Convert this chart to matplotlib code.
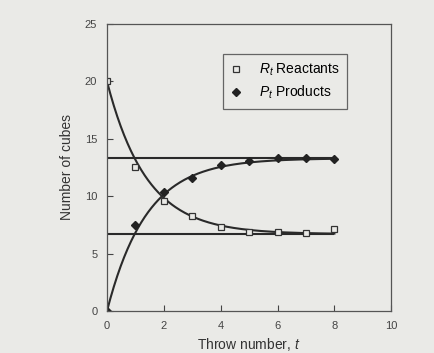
import numpy as np
import matplotlib
matplotlib.use("Agg")
import matplotlib.pyplot as plt

plt.rcParams['font.family'] = ['Liberation Sans', 'DejaVu Sans']
plt.rcParams['mathtext.fontset'] = 'custom'
plt.rcParams['mathtext.rm'] = 'Liberation Sans'
plt.rcParams['mathtext.it'] = 'Liberation Sans:italic'

# measured points
throw = [0, 1, 2, 3, 4, 5, 6, 7, 8]
reactants = [20, 12.5, 9.6, 8.3, 7.3, 6.9, 6.9, 6.8, 7.1]
products = [0, 7.5, 10.4, 11.6, 12.7, 13.1, 13.3, 13.3, 13.2]

# model curve parameters
r_eq = 6.7
p_eq = 13.3
k_rate = 0.72
t_end = 8

bg = '#eaeae7'
fig = plt.figure(figsize=(4.34, 3.53), dpi=100, facecolor=bg)
ax = fig.add_axes([0.2465, 0.119, 0.655, 0.813], facecolor=bg)

t = np.linspace(0, t_end, 200)
ax.plot(t, r_eq + (reactants[0] - r_eq) * np.exp(-k_rate * t), color='#2a2a2a', lw=1.5)
ax.plot(t, p_eq * (1 - np.exp(-k_rate * t)), color='#2a2a2a', lw=1.5)
ax.hlines([r_eq, p_eq], 0, t_end, color='#2a2a2a', lw=1.5)

ax.plot(throw, reactants, ls='None', marker='s', ms=5, mfc=bg, mec='#333333', mew=0.9,
        label=r'$R_t$ Reactants')
ax.plot(throw, products, ls='None', marker='D', ms=4.5, color='#222222',
        label=r'$P_t$ Products')

ax.set_xlim(0, 10)
ax.set_ylim(0, 25)
ax.set_xticks([0, 2, 4, 6, 8, 10])
ax.set_yticks([0, 5, 10, 15, 20, 25])
ax.tick_params(direction='in', labelsize=8, colors='#444444', length=4, pad=7)
for s in ax.spines.values():
    s.set_color('#555555')
    s.set_linewidth(0.9)

ax.set_xlabel('Throw number, $t$', fontsize=10, color='#333333', labelpad=4)
ax.set_ylabel('Number of cubes', fontsize=10, color='#333333', labelpad=8)

leg = ax.legend(loc='upper right', bbox_to_anchor=(0.845, 0.895), borderaxespad=0,
                fontsize=10, frameon=True, fancybox=False, facecolor=bg,
                edgecolor='#444444', handlelength=0.8, handletextpad=1.2,
                borderpad=0.55, labelspacing=0.4)
leg.get_frame().set_linewidth(0.9)

fig.savefig('out.png', dpi=100, facecolor=bg)
